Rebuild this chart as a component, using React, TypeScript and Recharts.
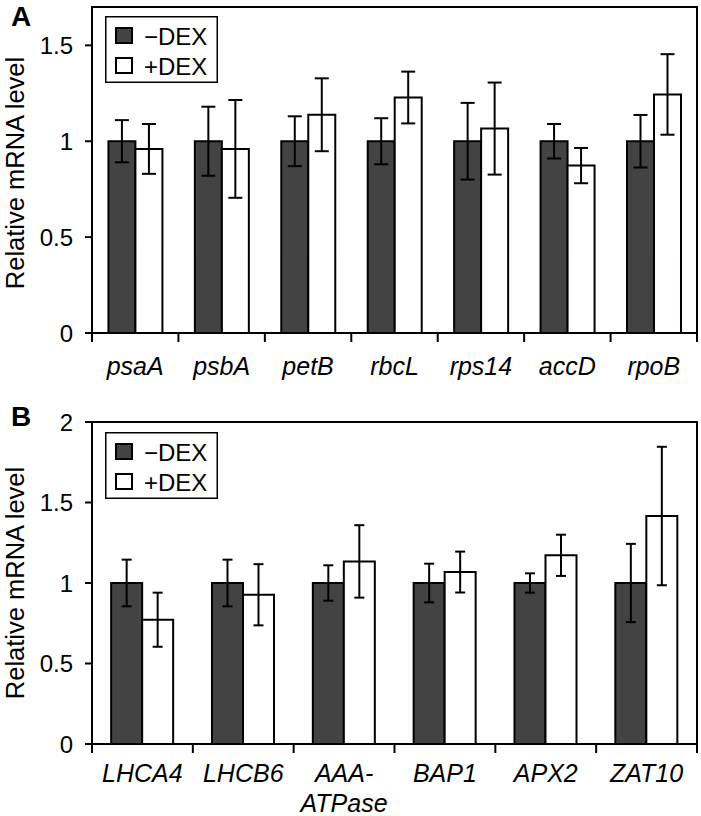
import { Bar, BarChart, ErrorBar, Legend, ReferenceArea, XAxis, YAxis } from 'recharts';

const FONT = '"Liberation Sans", Arial, Helvetica, sans-serif';
const DARK = '#434343';

// Panel A: plastid-encoded genes
const genesA = ['psaA', 'psbA', 'petB', 'rbcL', 'rps14', 'accD', 'rpoB'];
const minusA = [1, 1, 1, 1, 1, 1, 1];
const minusErrA = [0.11, 0.18, 0.13, 0.12, 0.2, 0.09, 0.137];
const plusA = [0.96, 0.96, 1.138, 1.228, 1.066, 0.873, 1.244];
const plusErrA = [0.13, 0.255, 0.19, 0.135, 0.24, 0.092, 0.21];
const yTicksA = [0, 0.5, 1, 1.5];

// Panel B: nuclear genes
const genesB = ['LHCA4', 'LHCB6', 'AAA-\nATPase', 'BAP1', 'APX2', 'ZAT10'];
const minusB = [1, 1, 1, 1, 1, 1];
const minusErrB = [0.145, 0.145, 0.11, 0.12, 0.06, 0.243];
const plusB = [0.772, 0.927, 1.134, 1.068, 1.172, 1.416];
const plusErrB = [0.168, 0.19, 0.225, 0.127, 0.128, 0.43];
const yTicksB = [0, 0.5, 1, 1.5, 2];

const seriesNames = ['−DEX', '+DEX'];

type Row = { gene: string; minus: number; minusErr: number; plus: number; plusErr: number };

function toRows(genes: string[], minus: number[], minusErr: number[], plus: number[], plusErr: number[]): Row[] {
  return genes.map((g, i) => ({ gene: g, minus: minus[i], minusErr: minusErr[i], plus: plus[i], plusErr: plusErr[i] }));
}

const rowsA = toRows(genesA, minusA, minusErrA, plusA, plusErrA);
const rowsB = toRows(genesB, minusB, minusErrB, plusB, plusErrB);

// x tick: italic gene name, plus tick marks on the category boundaries (Excel style)
function GeneTick(props: any) {
  const { x, y, payload, index, count, baseline } = props;
  const half = payload?.offset ?? 0;
  const lines = String(payload.value).split('\n');
  return (
    <g>
      <line x1={x - half} x2={x - half} y1={y} y2={y + 9} stroke="#000" strokeWidth={2} />
      {index === count - 1 && (
        <line x1={x + half} x2={x + half} y1={y} y2={y + 9} stroke="#000" strokeWidth={2} />
      )}
      <text x={x} y={y + baseline} textAnchor="middle" fontStyle="italic" fontSize={25} fill="#000" fontFamily={FONT}>
        {lines.map((l, i) => (
          <tspan key={i} x={x} dy={i === 0 ? 0 : 30}>
            {l}
          </tspan>
        ))}
      </text>
    </g>
  );
}

function DexLegend(props: any) {
  const items = [...(props.payload ?? [])].sort(
    (a: any, b: any) => seriesNames.indexOf(a.value) - seriesNames.indexOf(b.value),
  );
  return (
    <svg width={113} height={67} style={{ display: 'block' }}>
      <rect x={0.75} y={0.75} width={111.5} height={65.5} fill="#fff" stroke="#000" strokeWidth={1.5} />
      {items.map((it: any, i: number) => (
        <g key={i}>
          <rect x={11} y={12 + i * 30} width={16} height={15} fill={it.color} stroke="#000" strokeWidth={2} />
          <text x={39} y={29 + i * 29.5} fontSize={24} fontFamily={FONT} fill="#000">
            {it.value}
          </text>
        </g>
      ))}
    </svg>
  );
}

function yLabel(shift: number) {
  return {
    content: (p: any) => {
      const vb = p.viewBox ?? { y: 0, height: 0 };
      const cy = vb.y + vb.height / 2 + shift;
      return (
        <text x={24} y={cy} transform={`rotate(-90, 24, ${cy})`} textAnchor="middle" fontSize={25.5} fontFamily={FONT} fill="#000">
          Relative mRNA level
        </text>
      );
    },
  };
}

type PanelProps = {
  rows: Row[];
  yMax: number;
  yTicks: number[];
  height: number;
  top: number;
  xHeight: number;
  legendTop: number;
  baseline: number;
  capWidth: number;
  labelShift: number;
};

function Panel({ rows, yMax, yTicks, height, top, xHeight, legendTop, baseline, capWidth, labelShift }: PanelProps) {
  return (
    <BarChart
      width={701}
      height={height}
      data={rows}
      margin={{ top, right: 4, bottom: 0, left: 0 }}
      barCategoryGap="19%"
      barGap={0}
    >
      <XAxis
        dataKey="gene"
        interval={0}
        height={xHeight}
        tickSize={0}
        tickMargin={0}
        tickLine={false}
        axisLine={{ stroke: '#000', strokeWidth: 2 }}
        tick={(p: any) => <GeneTick {...p} count={rows.length} baseline={baseline} />}
      />
      <YAxis
        domain={[0, yMax]}
        ticks={yTicks}
        width={92}
        tickSize={7}
        tickMargin={12}
        allowDataOverflow
        axisLine={{ stroke: '#000', strokeWidth: 2 }}
        tickLine={{ stroke: '#000', strokeWidth: 2 }}
        tick={{ fill: '#000', fontSize: 24, fontFamily: FONT }}
        label={yLabel(labelShift)}
      />
      <ReferenceArea y1={0} y2={yMax} fill="none" stroke="#000" strokeWidth={2} ifOverflow="visible" />
      <Legend
        layout="vertical"
        align="center"
        verticalAlign="middle"
        wrapperStyle={{ top: legendTop, left: 105, width: 113, height: 67 }}
        content={(p: any) => <DexLegend {...p} />}
      />
      <Bar dataKey="minus" name={seriesNames[0]} fill={DARK} stroke="#000" strokeWidth={2} isAnimationActive={false}>
        <ErrorBar dataKey="minusErr" width={capWidth} stroke="#000" strokeWidth={2} direction="y" isAnimationActive={false} />
      </Bar>
      <Bar dataKey="plus" name={seriesNames[1]} fill="#fff" stroke="#000" strokeWidth={2} isAnimationActive={false}>
        <ErrorBar dataKey="plusErr" width={capWidth} stroke="#000" strokeWidth={2} direction="y" isAnimationActive={false} />
      </Bar>
    </BarChart>
  );
}

export default function App() {
  return (
    <div style={{ position: 'absolute', left: 0, top: 0, width: 701, height: 816, background: '#fff', fontFamily: FONT }}>
      <div style={{ position: 'absolute', left: 0, top: 0 }}>
        <Panel
          rows={rowsA}
          yMax={1.7}
          yTicks={yTicksA}
          height={400}
          top={7}
          xHeight={67}
          legendTop={16}
          baseline={42}
          capWidth={7}
          labelShift={3}
        />
      </div>
      <div style={{ position: 'absolute', left: 0, top: 408 }}>
        <Panel
          rows={rowsB}
          yMax={2}
          yTicks={yTicksB}
          height={408}
          top={14}
          xHeight={72}
          legendTop={24}
          baseline={38}
          capWidth={5}
          labelShift={0}
        />
      </div>
      <svg width={701} height={816} style={{ position: 'absolute', left: 0, top: 0, pointerEvents: 'none' }}>
        <text x={11} y={26} fontSize={28} fontWeight="bold" fontFamily={FONT} fill="#000">A</text>
        <text x={11} y={426} fontSize={28} fontWeight="bold" fontFamily={FONT} fill="#000">B</text>
      </svg>
    </div>
  );
}
